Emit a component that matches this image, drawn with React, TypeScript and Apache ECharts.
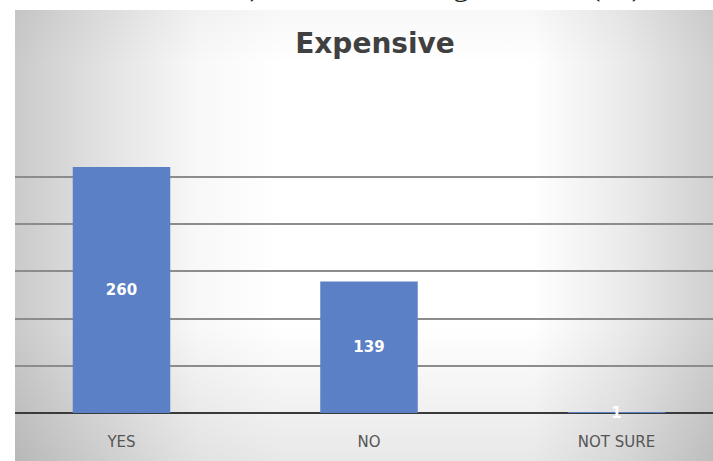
import React, { useEffect, useRef } from "react";
import * as echarts from "echarts";

const titleText = "Expensive";
const categories = ["YES", "NO", "NOT SURE"];
const values = [260, 139, 1];
const yMin = 0;
const yMax = 300;
const yInterval = 50;
const topFragments = [
  { t: ")", x: 255 },
  { t: "g", x: 461 },
  { t: "(", x: 595 },
  { t: ")", x: 637 },
];

const OFF = 10; // chart div is shifted left by this many px

export default function App() {
  const ref = useRef<HTMLDivElement>(null);
  useEffect(() => {
    if (!ref.current) return;
    const chart = echarts.init(ref.current, null, { renderer: "svg" });
    const FONT = "DejaVu Sans";
    const lineColors = ["#8c8c8c", "#8c8c8c", "#8c8c8c", "#8c8c8c", "#8c8c8c", "#8c8c8c", "rgba(0,0,0,0)"];
    const bgShape = { x: 15 + OFF, y: 10, width: 698, height: 451 };
    chart.setOption({
      animation: false,
      backgroundColor: "#ffffff",
      title: {
        text: titleText,
        left: 370 + OFF,
        top: 24,
        textAlign: "center",
        textStyle: { fontFamily: FONT, fontWeight: "bold", fontSize: 28, color: "#404040" },
      },
      graphic: [
        {
          type: "rect",
          z: -10,
          silent: true,
          shape: bgShape,
          style: {
            fill: {
              type: "linear",
              x: 0, y: 0, x2: 1, y2: 0,
              colorStops: [
                { offset: 0, color: "#cacaca" },
                { offset: 0.1, color: "#dddddd" },
                { offset: 0.26, color: "#f8f8f8" },
                { offset: 0.38, color: "#ffffff" },
                { offset: 0.74, color: "#ffffff" },
                { offset: 0.87, color: "#ebebeb" },
                { offset: 1, color: "#d0d0d0" },
              ],
            },
          },
        },
        {
          type: "rect",
          z: -9,
          silent: true,
          shape: bgShape,
          style: {
            fill: {
              type: "linear",
              x: 0, y: 0, x2: 0, y2: 1,
              colorStops: [
                { offset: 0, color: "rgba(0,0,0,0.03)" },
                { offset: 0.12, color: "rgba(0,0,0,0)" },
                { offset: 0.7, color: "rgba(0,0,0,0)" },
                { offset: 1, color: "rgba(0,0,0,0.09)" },
              ],
            },
          },
        },
        {
          type: "rect",
          z: 100,
          silent: true,
          shape: { x: 0, y: 0, width: 15 + OFF, height: 461 },
          style: { fill: "#ffffff" },
        },
        ...topFragments.map((f) => ({
          type: "text",
          z: 100,
          silent: true,
          x: f.x + OFF,
          y: -16,
          style: {
            text: f.t,
            font: "32px 'Liberation Serif'",
            fill: "#222222",
            textAlign: "center",
            textVerticalAlign: "middle",
          },
        })),
      ],
      grid: { left: -2.25 + OFF, width: 742.5, top: 129.2, height: 283.8, containLabel: false },
      xAxis: {
        type: "category",
        data: categories,
        axisTick: { show: false },
        axisLine: { show: true, lineStyle: { color: "#3a3a3a", width: 2 } },
        axisLabel: { fontFamily: FONT, fontSize: 15, color: "#555555", margin: 21 },
      },
      yAxis: {
        type: "value",
        min: yMin,
        max: yMax,
        interval: yInterval,
        axisLabel: { show: false },
        axisLine: { show: false },
        axisTick: { show: false },
        splitLine: { show: true, lineStyle: { color: lineColors, width: 2 } },
      },
      series: [
        {
          type: "bar",
          data: values,
          barWidth: "39.4%",
          itemStyle: { color: "#5b80c6" },
          label: {
            show: true,
            position: "inside",
            fontFamily: FONT,
            fontWeight: "bold",
            fontSize: 15,
            color: "#ffffff",
          },
        },
      ],
    });
    return () => chart.dispose();
  }, []);
  return (
    <div style={{ position: "absolute", left: 0, top: 0, width: 713, height: 461, overflow: "hidden" }}>
      <div ref={ref} style={{ position: "absolute", left: -OFF, top: 0, width: 760, height: 461 }} />
    </div>
  );
}
